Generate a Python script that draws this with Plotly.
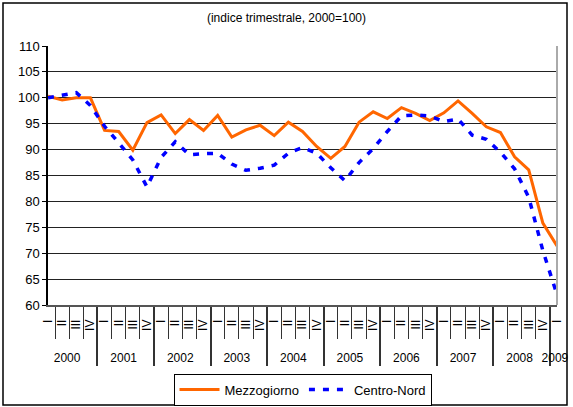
import plotly.graph_objects as go

years = ["2000", "2001", "2002", "2003", "2004", "2005", "2006", "2007", "2008", "2009"]
quarters = ["I", "II", "III", "IV"]

mezzogiorno = [100.3, 99.6, 100.0, 100.0, 93.7, 93.5, 89.9, 95.2,
               96.7, 93.1, 95.8, 93.7, 96.6, 92.4, 93.8, 94.7,
               92.7, 95.3, 93.5, 90.6, 88.3, 90.6, 95.3, 97.3,
               96.0, 98.1, 97.0, 95.6, 97.1, 99.4, 97.0, 94.4,
               93.3, 88.6, 86.1, 75.8, 71.4]
centro_nord = [100.0, 100.5, 101.0, 98.5, 94.5, 91.3, 88.0, 82.8,
               88.5, 91.5, 89.0, 89.2, 89.3, 87.2, 86.0, 86.4,
               87.0, 89.3, 90.4, 89.3, 86.5, 84.0, 87.5, 90.2,
               93.5, 96.5, 96.7, 96.5, 95.4, 95.9, 92.8, 92.0,
               89.5, 86.3, 80.8, 70.5, 62.0]

n = len(mezzogiorno)
# leading line break pushes the year row lower, as in the reference
year_lab = ["<br>" + years[i // 4] for i in range(n)]
q_lab = [quarters[i % 4] for i in range(n)]
x = [year_lab, q_lab]

FONT = "Liberation Sans, Arial, sans-serif"

fig = go.Figure()
fig.add_trace(go.Scatter(x=x, y=mezzogiorno, name="Mezzogiorno", mode="lines",
                         line=dict(color="#FF6600", width=3)))
fig.add_trace(go.Scatter(x=x, y=centro_nord, name="Centro-Nord", mode="lines",
                         line=dict(color="#0000FF", width=3.5, dash="6px,8px")))

fig.update_layout(
    width=573, height=407,
    margin=dict(l=48, r=16, t=46, b=102, autoexpand=False),
    paper_bgcolor="white", plot_bgcolor="white",
    font=dict(family=FONT, size=12, color="black"),
    title=dict(text="(indice trimestrale, 2000=100)", x=0.5, xanchor="center",
               y=1 - 18 / 407, yanchor="middle", font=dict(size=12, family=FONT)),
    legend=dict(orientation="h", x=0.5, xanchor="center", y=-0.265, yanchor="top",
                bordercolor="black", borderwidth=1, font=dict(size=13),
                itemwidth=40, tracegroupgap=0),
    showlegend=True,
)
fig.update_yaxes(range=[60, 110], dtick=5, showgrid=True, gridcolor="#222222", gridwidth=1,
                 showline=True, linecolor="black", linewidth=1.5,
                 ticks="outside", ticklen=4, tickcolor="black",
                 tickfont=dict(size=13), zeroline=False, automargin=False)
fig.update_xaxes(type="multicategory", showgrid=False, showline=True,
                 linecolor="#555555", linewidth=1.5,
                 ticks="outside", ticklen=32, tickcolor="#333333", tickson="boundaries",
                 tickangle=-90, tickfont=dict(size=12), automargin=False,
                 ticklabelstandoff=8,
                 showdividers=True, dividercolor="#333333", dividerwidth=1.5)

# plot-area right edge and outer frame
fig.add_shape(type="line", xref="paper", yref="paper", x0=1, x1=1, y0=0, y1=1,
              line=dict(color="#AAAAAA", width=2))
fig.add_shape(type="rect", xref="paper", yref="paper",
              x0=(3 - 48) / 509, x1=(567 - 48) / 509,
              y0=(305 - 405) / 259, y1=(305 - 3) / 259,
              line=dict(color="black", width=1.5), fillcolor="rgba(0,0,0,0)")

fig.write_html("out.html", config={"displayModeBar": False},
               post_script="document.body.style.margin='0';document.body.style.overflow='hidden';")
